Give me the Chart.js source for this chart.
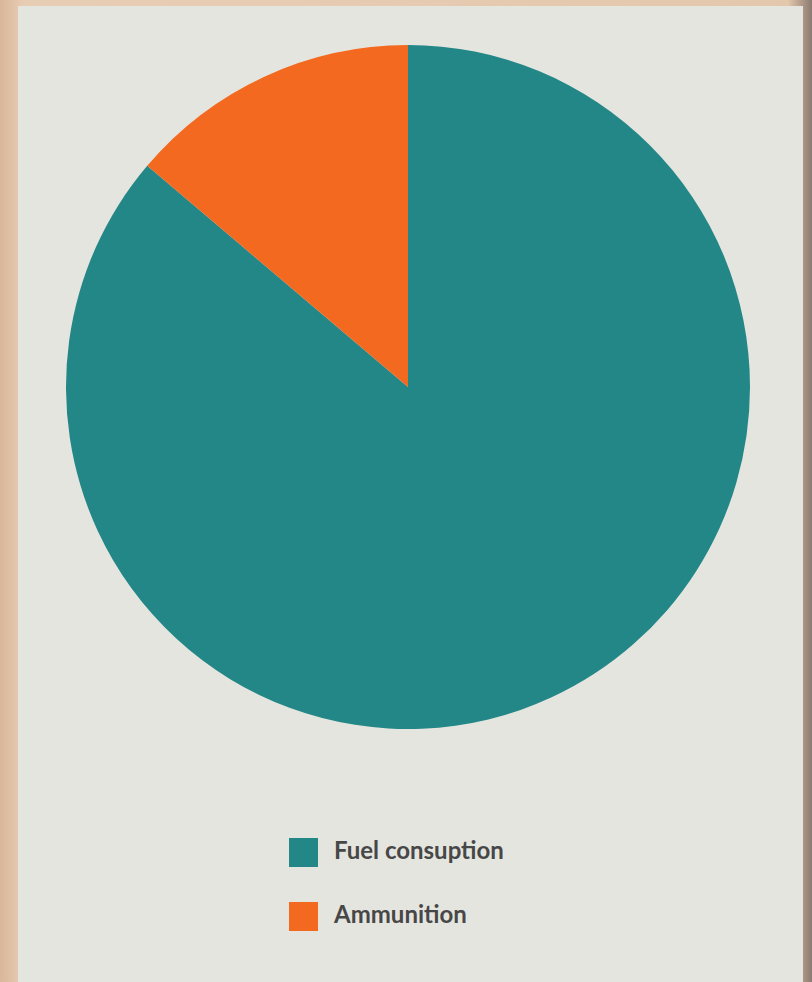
<!DOCTYPE html>
<html><head><meta charset="utf-8">
<script src="https://cdn.jsdelivr.net/npm/chart.js@4"></script>
<style>
html,body{margin:0;padding:0;width:812px;height:982px;overflow:hidden;}
body{background:linear-gradient(90deg,#d9b79a 0%,#e8cdb5 3%,#e4c8ad 97%,#8a7a70 100%);position:relative;font-family:Lato,sans-serif;}
#panel{position:absolute;left:18px;top:6px;width:785px;height:976px;background:#e5e5e0;}
#wrap{position:absolute;left:66px;top:45px;width:684px;height:684px;}
#legend{position:absolute;left:289px;top:837px;}
.item{display:flex;align-items:center;height:30px;margin-bottom:34px;}
.box{width:29px;height:29px;margin-right:16px;}
.lbl{font-weight:700;font-size:24px;color:#474747;letter-spacing:0px;position:relative;top:-3px;}
</style></head>
<body>
<div id="panel"></div>
<div id="wrap"><canvas id="c"></canvas></div>
<div id="legend"></div>
<script>
const categories = ["Fuel consuption", "Ammunition"];
const values = [86.2, 13.8];
const colors = ["#238787", "#f2691f"];

new Chart(document.getElementById('c'), {
  type: 'pie',
  data: { labels: categories, datasets: [{ data: values, backgroundColor: colors, borderWidth: 0 }] },
  options: {
    responsive: true, maintainAspectRatio: false, animation: false,
    layout: { padding: 0 },
    plugins: { legend: { display: false }, tooltip: { enabled: false } }
  }
});
const lg = document.getElementById('legend');
categories.forEach((c, i) => {
  const d = document.createElement('div'); d.className = 'item';
  const b = document.createElement('div'); b.className = 'box'; b.style.background = colors[i];
  const t = document.createElement('span'); t.className = 'lbl'; t.textContent = c;
  d.appendChild(b); d.appendChild(t); lg.appendChild(d);
});
</script>
</body></html>
